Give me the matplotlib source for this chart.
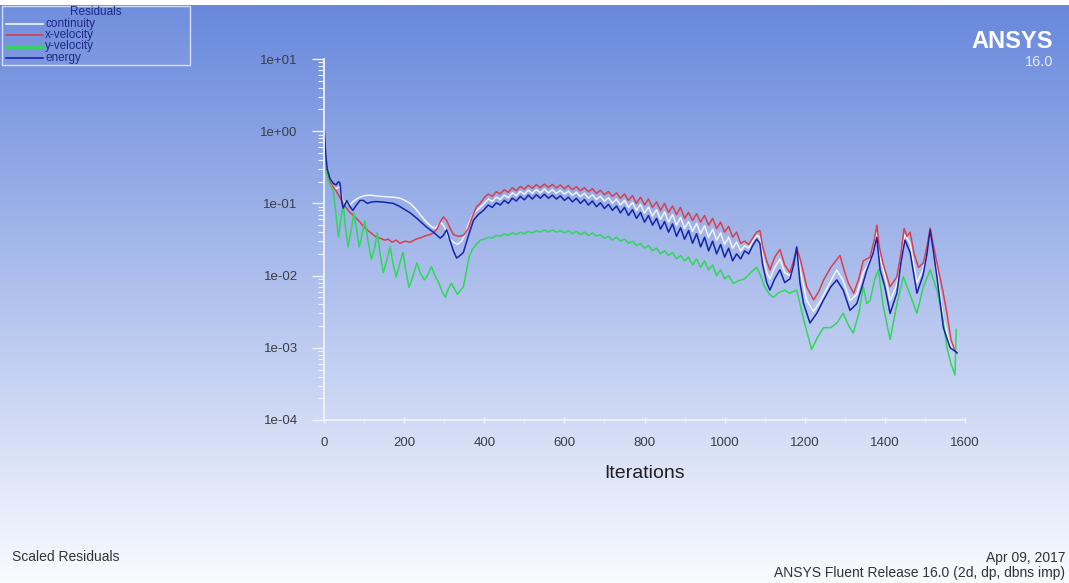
import matplotlib
matplotlib.use("Agg")
import matplotlib.pyplot as plt
import numpy as np
from matplotlib.lines import Line2D
from matplotlib.patches import Rectangle
from matplotlib.ticker import FixedLocator, FuncFormatter, NullFormatter

# ---------------- data ----------------
series_names = ["continuity", "x-velocity", "y-velocity", "energy"]

cont_iter = [1, 5, 10, 15, 23, 30, 40, 48, 57, 65, 72, 81, 90, 100, 115, 131, 150, 173, 190, 202,
             215, 228, 240, 256, 268, 277, 286, 292, 300, 310, 323, 333, 344, 352, 360, 370, 381, 390,
             400, 410, 420, 430, 440, 450, 460, 470, 480, 490, 500, 510, 520, 530, 540, 550, 560, 570,
             580, 590, 600, 610, 620, 630, 640, 650, 660, 670, 680, 690, 700, 710, 720, 730, 740, 750,
             760, 770, 780, 790, 800, 810, 820, 830, 840, 850, 860, 870, 880, 890, 900, 910, 920, 930,
             940, 950, 960, 970, 980, 990, 1000, 1010, 1020, 1030, 1040, 1050, 1060, 1070, 1080, 1088,
             1095, 1105, 1113, 1125, 1138, 1150, 1163, 1172, 1180, 1190, 1205, 1222, 1240, 1260, 1280,
             1296, 1313, 1330, 1346, 1360, 1372, 1380, 1388, 1400, 1413, 1430, 1440, 1450, 1463, 1480,
             1495, 1505, 1513, 1522, 1530, 1546, 1563, 1575, 1580]
cont_res = [0.5, 0.3, 0.24, 0.2, 0.17, 0.16, 0.17, 0.1, 0.11, 0.095, 0.105, 0.115, 0.122, 0.128, 0.13,
            0.127, 0.124, 0.122, 0.118, 0.11, 0.1, 0.085, 0.07, 0.055, 0.048, 0.045, 0.05, 0.055, 0.048,
            0.034, 0.029, 0.027, 0.03, 0.038, 0.05, 0.068, 0.08, 0.088,
            0.1, 0.115, 0.106, 0.122, 0.114, 0.13, 0.12, 0.14, 0.128, 0.147, 0.134, 0.153, 0.138, 0.156,
            0.14, 0.158, 0.14, 0.155, 0.138, 0.152, 0.134, 0.148, 0.13, 0.143, 0.124, 0.138, 0.118, 0.132,
            0.113, 0.126, 0.107, 0.12, 0.101, 0.115, 0.095, 0.11, 0.088, 0.103, 0.08, 0.097, 0.073, 0.089,
            0.067, 0.082, 0.06, 0.076, 0.055, 0.07, 0.05, 0.064, 0.045, 0.056, 0.041, 0.053, 0.038, 0.049,
            0.034, 0.044, 0.031, 0.039, 0.027, 0.034, 0.024, 0.029, 0.022, 0.026, 0.024, 0.03, 0.036,
            0.034, 0.019, 0.011, 0.009, 0.013, 0.017, 0.011, 0.01, 0.015, 0.024, 0.011, 0.0045, 0.0032,
            0.0045, 0.0075, 0.012, 0.0085, 0.0045, 0.0055, 0.011, 0.015, 0.025, 0.04, 0.018, 0.01, 0.0045,
            0.0075, 0.017, 0.037, 0.028, 0.008, 0.012, 0.022, 0.044, 0.022, 0.012, 0.0025, 0.0011,
            0.0009, 0.00085]

xvel_iter = [1, 5, 10, 15, 23, 30, 40, 48, 57, 65, 77, 90, 100, 110, 120, 131, 140, 152, 160, 170, 180,
             190, 202, 215, 230, 245, 256, 265, 273, 283, 290, 298, 306, 315, 323, 335, 348, 360, 370, 381,
             390, 400, 410, 420, 430, 440, 450, 460, 470, 480, 490, 500, 510, 520, 530, 540, 550, 560, 570,
             580, 590, 600, 610, 620, 630, 640, 650, 660, 670, 680, 690, 700, 710, 720, 730, 740, 750, 760,
             770, 780, 790, 800, 810, 820, 830, 840, 850, 860, 870, 880, 890, 900, 910, 920, 930, 940, 950,
             960, 970, 980, 990, 1000, 1010, 1020, 1030, 1040, 1050, 1060, 1070, 1080, 1088, 1095, 1105,
             1113, 1125, 1138, 1150, 1163, 1172, 1180, 1190, 1205, 1222, 1235, 1247, 1265, 1288, 1300,
             1309, 1322, 1335, 1346, 1363, 1373, 1380, 1386, 1395, 1413, 1430, 1440, 1448, 1455, 1463,
             1473, 1484, 1496, 1505, 1513, 1522, 1530, 1545, 1555, 1565, 1575, 1580]
xvel_res = [0.45, 0.3, 0.24, 0.2, 0.17, 0.15, 0.12, 0.1, 0.085, 0.075, 0.065, 0.055, 0.047, 0.042, 0.038,
            0.034, 0.033, 0.031, 0.032, 0.029, 0.031, 0.028, 0.03, 0.029, 0.032, 0.034, 0.036, 0.037,
            0.039, 0.045, 0.055, 0.065, 0.058, 0.045, 0.037, 0.035, 0.036, 0.045, 0.065, 0.09, 0.1,
            0.12, 0.135, 0.125, 0.145, 0.135, 0.155, 0.142, 0.165, 0.15, 0.172, 0.158, 0.178, 0.162, 0.182,
            0.165, 0.185, 0.166, 0.183, 0.164, 0.18, 0.16, 0.176, 0.155, 0.17, 0.15, 0.165, 0.145, 0.16,
            0.138, 0.152, 0.132, 0.146, 0.125, 0.14, 0.118, 0.135, 0.11, 0.128, 0.1, 0.122, 0.095, 0.115,
            0.088, 0.105, 0.08, 0.1, 0.075, 0.092, 0.07, 0.088, 0.062, 0.075, 0.058, 0.072, 0.055, 0.068,
            0.05, 0.062, 0.045, 0.055, 0.04, 0.048, 0.034, 0.04, 0.028, 0.03, 0.027, 0.033, 0.04, 0.042,
            0.025, 0.016, 0.012, 0.018, 0.023, 0.014, 0.011, 0.016, 0.024, 0.016, 0.007, 0.0046, 0.006,
            0.0087, 0.013, 0.019, 0.011, 0.0078, 0.0057, 0.009, 0.016, 0.018, 0.03, 0.05, 0.025, 0.015,
            0.007, 0.0096, 0.02, 0.045, 0.035, 0.04, 0.02, 0.013, 0.015, 0.025, 0.046, 0.025, 0.015,
            0.006, 0.003, 0.0013, 0.0009, 0.00085]

yvel_iter = [1, 5, 10, 15, 23, 30, 36, 42, 48, 53, 60, 67, 75, 81, 88, 94, 102, 110, 118, 125, 133, 140,
             148, 155, 165, 172, 180, 188, 197, 204, 212, 220, 232, 240, 250, 258, 268, 277, 287, 295, 303,
             310, 318, 326, 333, 340, 348, 356, 362, 370, 380, 390, 400, 410, 420, 430, 440, 450, 460, 470,
             480, 490, 500, 510, 520, 530, 540, 550, 560, 570, 580, 590, 600, 610, 620, 630, 640, 650, 660,
             670, 680, 690, 700, 710, 720, 730, 740, 750, 760, 770, 780, 790, 800, 810, 820, 830, 840, 850,
             860, 870, 880, 890, 900, 910, 920, 930, 940, 950, 960, 970, 980, 990, 1000, 1010, 1022, 1035,
             1050, 1065, 1080, 1090, 1100, 1112, 1122, 1135, 1150, 1163, 1180, 1197, 1217, 1232, 1247,
             1265, 1280, 1296, 1310, 1321, 1335, 1346, 1355, 1363, 1375, 1384, 1395, 1413, 1430, 1446,
             1460, 1480, 1496, 1513, 1530, 1545, 1555, 1565, 1575, 1578]
yvel_res = [0.4, 0.28, 0.22, 0.18, 0.15, 0.07, 0.034, 0.06, 0.1, 0.05, 0.025, 0.04, 0.074, 0.045, 0.025,
            0.035, 0.058, 0.03, 0.017, 0.022, 0.039, 0.02, 0.011, 0.015, 0.025, 0.015, 0.0096, 0.014,
            0.021, 0.012, 0.0069, 0.009, 0.015, 0.011, 0.0087, 0.01, 0.0133, 0.01, 0.0078, 0.006, 0.005,
            0.0065, 0.0078, 0.0065, 0.0055, 0.0062, 0.007, 0.012, 0.018, 0.023, 0.027, 0.031,
            0.032, 0.034, 0.033, 0.036, 0.035, 0.038, 0.036, 0.039, 0.037, 0.04, 0.038, 0.041, 0.039,
            0.042, 0.04, 0.043, 0.04, 0.043, 0.04, 0.042, 0.039, 0.042, 0.038, 0.041, 0.037, 0.04, 0.036,
            0.039, 0.035, 0.037, 0.033, 0.035, 0.031, 0.034, 0.03, 0.032, 0.028, 0.03, 0.026, 0.028,
            0.024, 0.026, 0.022, 0.024, 0.02, 0.022, 0.019, 0.021, 0.017, 0.019, 0.016, 0.018, 0.014,
            0.017, 0.013, 0.016, 0.012, 0.014, 0.01, 0.012, 0.009, 0.01, 0.0078, 0.0085, 0.009, 0.011,
            0.013, 0.01, 0.007, 0.0055, 0.005, 0.0058, 0.0063, 0.0057, 0.0063, 0.0025, 0.00095, 0.0014,
            0.0019, 0.0019, 0.0022, 0.003, 0.002, 0.0016, 0.003, 0.007, 0.0041, 0.0045, 0.009, 0.012,
            0.004, 0.0013, 0.004, 0.0096, 0.006, 0.003, 0.007, 0.012, 0.0063, 0.0025, 0.001, 0.0006,
            0.00042, 0.0018]

energy_iter = [1, 4, 8, 15, 23, 30, 36, 40, 45, 48, 57, 65, 72, 81, 90, 98, 108, 120, 131, 150, 173, 190,
               202, 215, 235, 256, 273, 290, 298, 306, 315, 323, 331, 340, 348, 360, 373, 385, 398,
               410, 420, 430, 440, 450, 460, 470, 480, 490, 500, 510, 520, 530, 540, 550, 560, 570, 580,
               590, 600, 610, 620, 630, 640, 650, 660, 670, 680, 690, 700, 710, 720, 730, 740, 750, 760,
               770, 780, 790, 800, 810, 820, 830, 840, 850, 860, 870, 880, 890, 900, 910, 920, 930, 940,
               950, 960, 970, 980, 990, 1000, 1010, 1020, 1030, 1040, 1050, 1060, 1070, 1080, 1088, 1095,
               1105, 1113, 1125, 1138, 1150, 1163, 1172, 1180, 1188, 1197, 1213, 1230, 1247, 1265, 1280,
               1296, 1313, 1330, 1346, 1355, 1370, 1380, 1388, 1400, 1413, 1430, 1440, 1450, 1463, 1480,
               1495, 1505, 1513, 1522, 1530, 1546, 1563, 1575, 1580]
energy_res = [1.0, 0.5, 0.3, 0.22, 0.19, 0.18, 0.2, 0.19, 0.1, 0.086, 0.11, 0.09, 0.08, 0.095, 0.11, 0.11,
              0.1, 0.105, 0.106, 0.104, 0.1, 0.09, 0.082, 0.074, 0.06, 0.047, 0.04, 0.033, 0.036, 0.043,
              0.03, 0.022, 0.0175, 0.019, 0.021, 0.035, 0.058, 0.07, 0.08,
              0.095, 0.088, 0.102, 0.095, 0.11, 0.1, 0.118, 0.108, 0.125, 0.112, 0.13, 0.115, 0.132, 0.118,
              0.134, 0.118, 0.13, 0.115, 0.127, 0.11, 0.122, 0.105, 0.118, 0.1, 0.113, 0.095, 0.108, 0.09,
              0.102, 0.085, 0.097, 0.08, 0.092, 0.074, 0.088, 0.068, 0.082, 0.062, 0.075, 0.055, 0.068,
              0.05, 0.062, 0.044, 0.056, 0.04, 0.052, 0.035, 0.046, 0.032, 0.042, 0.028, 0.038, 0.025,
              0.034, 0.022, 0.03, 0.02, 0.027, 0.018, 0.024, 0.016, 0.02, 0.017, 0.022, 0.02, 0.026, 0.032,
              0.028, 0.014, 0.008, 0.0063, 0.009, 0.012, 0.008, 0.009, 0.014, 0.025, 0.008, 0.0041, 0.0022,
              0.003, 0.0046, 0.007, 0.0087, 0.0063, 0.0033, 0.0041, 0.008, 0.012, 0.02, 0.034, 0.012,
              0.007, 0.003, 0.0057, 0.015, 0.031, 0.021, 0.0057, 0.01, 0.02, 0.043, 0.02, 0.0096, 0.0019,
              0.001, 0.0009, 0.00085]

x_ticks = [0, 200, 400, 600, 800, 1000, 1200, 1400, 1600]
y_ticks = [1e-4, 1e-3, 1e-2, 1e-1, 1e0, 1e1]

# ---------------- figure ----------------
W, H = 1069, 583
fig = plt.figure(figsize=(W / 100, H / 100), dpi=100, facecolor="white")


def fx(px):
    return px / W


def fy(py):
    return 1 - py / H


# gradient background (blue at top -> white at bottom), white strip at very top
bg = fig.add_axes([0, 0, 1, 1])
bg.set_axis_off()
t = np.linspace(0, 1, 512)[:, None, None]
top_c = np.array([104, 136, 220]) / 255.0
bot_c = np.array([250, 251, 255]) / 255.0
img = top_c[None, None, :] * (1 - t) + bot_c[None, None, :] * t
img = np.repeat(img, 2, axis=1)
bg.imshow(img, extent=[0, 1, 0, fy(5)], aspect="auto", origin="upper", interpolation="bilinear")
bg.set_xlim(0, 1)
bg.set_ylim(0, 1)

# main axes
ax = fig.add_axes([fx(324), fy(420), fx(965) - fx(324), fy(59) - fy(420)])
ax.patch.set_alpha(0)
ax.set_yscale("log")
ax.set_xlim(0, 1600)
ax.set_ylim(1e-4, 1e1)

colors = {"continuity": "#f2f4fa", "x-velocity": "#d8404e", "y-velocity": "#2fd85a", "energy": "#1424a8"}
data = {"continuity": (cont_iter, cont_res), "x-velocity": (xvel_iter, xvel_res),
        "y-velocity": (yvel_iter, yvel_res), "energy": (energy_iter, energy_res)}
for name in series_names:
    xs, ys = data[name]
    ax.plot(xs, ys, color=colors[name], lw=1.1, solid_joinstyle="round")

for s in ["top", "right"]:
    ax.spines[s].set_visible(False)
for s in ["left", "bottom"]:
    ax.spines[s].set_color("#eef2fb")
    ax.spines[s].set_linewidth(1.3)

ax.xaxis.set_major_locator(FixedLocator(x_ticks))
ax.xaxis.set_minor_locator(FixedLocator(list(range(100, 1600, 200))))
ax.yaxis.set_major_locator(FixedLocator(y_ticks))
minor_y = [m * 10.0 ** e for e in range(-4, 1) for m in range(2, 10)]
ax.yaxis.set_minor_locator(FixedLocator(minor_y))
ax.yaxis.set_minor_formatter(NullFormatter())
ax.yaxis.set_major_formatter(FuncFormatter(lambda v, p: "{:.0e}".format(v)))
ax.xaxis.set_major_formatter(FuncFormatter(lambda v, p: "%d" % v))

tick_font = ["Liberation Sans", "DejaVu Sans"]
ax.tick_params(axis="y", which="major", direction="out", length=9, width=1.0, color="#eef2fb",
               pad=10, labelsize=9.5, labelcolor="#3c3c44")
ax.tick_params(axis="y", which="minor", direction="out", length=4, width=0.8, color="#eef2fb")
ax.tick_params(axis="x", which="major", direction="inout", length=4, width=1.0, color="#eef2fb",
               pad=10, labelsize=9.5, labelcolor="#3c3c44")
ax.tick_params(axis="x", which="minor", direction="inout", length=3, width=0.8, color="#eef2fb")
for lab in ax.get_xticklabels() + ax.get_yticklabels():
    lab.set_family(tick_font)

ax.set_xlabel("Iterations", fontsize=14, color="#202024", family=["Liberation Sans", "DejaVu Sans"],
              labelpad=12)

# legend (Fluent-style box at top left)
fig.add_artist(Rectangle((fx(2), fy(65)), fx(190) - fx(2), fy(6) - fy(65), transform=fig.transFigure,
                         facecolor=(1, 1, 1, 0.06), edgecolor="#d4def6", lw=1.0))
leg_font = ["Liberation Sans", "DejaVu Sans"]
fig.text(fx(96), fy(12), "Residuals", ha="center", va="center", fontsize=8.5, color="#1c2a86",
         family=leg_font)
leg_y = [23.5, 35, 46.5, 58]
for name, yy in zip(series_names, leg_y):
    fig.add_artist(Line2D([fx(6), fx(43)], [fy(yy), fy(yy)], transform=fig.transFigure,
                          color=colors[name], lw=1.2 if name != "y-velocity" else 2.0))
    fig.text(fx(45), fy(yy), name, ha="left", va="center", fontsize=8.5, color="#1c2a86",
             family=leg_font)

# ANSYS branding
fig.text(fx(1053), fy(41), "ANSYS", ha="right", va="center", fontsize=17, fontweight="bold",
         color="white", family=["Liberation Sans", "DejaVu Sans"])
fig.text(fx(1053), fy(62), "16.0", ha="right", va="center", fontsize=10.5, color="#e4eafa",
         family=["Liberation Sans", "DejaVu Sans"])

# footer texts
foot_font = ["Liberation Sans", "DejaVu Sans"]
fig.text(fx(12), fy(557), "Scaled Residuals", ha="left", va="center", fontsize=10, color="#333338",
         family=foot_font)
fig.text(fx(1065), fy(558), "Apr 09, 2017", ha="right", va="center", fontsize=10, color="#333338",
         family=foot_font)
fig.text(fx(1065), fy(573), "ANSYS Fluent Release 16.0 (2d, dp, dbns imp)", ha="right", va="center",
         fontsize=10, color="#333338", family=foot_font)

fig.savefig("out.png", dpi=100, facecolor="white")
